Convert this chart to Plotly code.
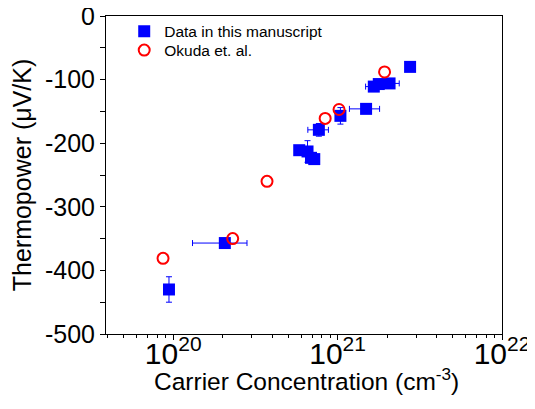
import plotly.graph_objects as go

# Data in this manuscript (blue squares)
ms_conc = [9.42e19, 2.06e20, 5.84e20, 6.56e20, 6.89e20, 7.21e20, 7.69e20,
           1.04e21, 1.49e21, 1.66e21, 1.78e21, 2.07e21, 2.76e21]
ms_S = [-430, -357, -211, -213, -223, -225, -179,
        -157, -146, -111, -107, -106, -80]
ms_S_err = [20, 0, 0, 17, 0, 0, 10, 13, 0, 0, 0, 0, 0]
ms_conc_err = [0, 0.75e20, 0, 0, 0, 0, 1.1e20, 0, 0.31e21, 0.18e21, 0, 0.3e21, 0]

# Okuda et. al. (red open circles)
ok_conc = [8.67e19, 2.30e20, 3.72e20, 8.4e20, 1.02e21, 1.93e21]
ok_S = [-381, -350, -260, -161, -147, -88]

# Axis ticks
y_tickvals = [0, -100, -200, -300, -400, -500]
y_ticktext = ["0", "-100", "-200", "-300", "-400", "-500"]

FONT = "Liberation Sans, Arial, sans-serif"
x_range = [19.591, 22]
y_range = [-500, 0]

fig = go.Figure()
fig.add_trace(go.Scatter(
    x=ms_conc, y=ms_S, mode="markers", name="Data in this manuscript",
    legend="legend",
    marker=dict(symbol="square", size=12, color="#0000ff", line=dict(width=0)),
    error_y=dict(type="data", array=ms_S_err, color="#0000ff", thickness=1, width=3),
    error_x=dict(type="data", array=ms_conc_err, color="#0000ff", thickness=1, width=3),
))
fig.add_trace(go.Scatter(
    x=ok_conc, y=ok_S, mode="markers", name="Okuda et. al.",
    legend="legend2",
    marker=dict(symbol="circle-open", size=11, color="#ff0000", line=dict(width=2, color="#ff0000")),
))

legend_style = dict(xanchor="left", yanchor="top", bgcolor="rgba(0,0,0,0)", borderwidth=0,
                    font=dict(size=15.5, family=FONT))

fig.add_annotation(
    text="Carrier Concentration (cm<sup>-3</sup>)", xref="paper", yref="paper",
    x=0.506, y=-0.142, xanchor="center", yanchor="middle", showarrow=False,
    font=dict(size=24.5, family=FONT, color="black"),
)

fig.update_layout(
    width=527, height=401,
    margin=dict(l=98, r=33, t=8, b=75, autoexpand=False),
    paper_bgcolor="white", plot_bgcolor="white",
    font=dict(family=FONT, color="black"),
    showlegend=True,
    legend=dict(x=0.046, y=1.004, **legend_style),
    legend2=dict(x=0.046, y=0.945, **legend_style),
    xaxis=dict(
        type="log", range=x_range, showgrid=False, zeroline=False, automargin=False,
        showline=True, linecolor="black", linewidth=1, mirror=True,
        ticks="outside", ticklen=5, tickwidth=1, tickcolor="black",
        dtick=1, exponentformat="power", showexponent="all",
        tickfont=dict(size=24, family=FONT), ticklabelstandoff=-11, ticklabeloverflow="allow",
        minor=dict(ticks="outside", ticklen=3, tickwidth=1, tickcolor="black", dtick="D1"),
    ),
    yaxis=dict(
        range=y_range, showgrid=False, zeroline=False, automargin=False,
        showline=True, linecolor="black", linewidth=1, mirror=True,
        ticks="outside", ticklen=5, tickwidth=1, tickcolor="black",
        tickmode="array", tickvals=y_tickvals, ticktext=y_ticktext,
        tickfont=dict(size=25, family=FONT), ticklabeloverflow="allow",
        minor=dict(ticks="outside", ticklen=5, tickwidth=1, tickcolor="black", dtick=50),
        title=dict(text="Thermopower (μV/K)", font=dict(size=25, family=FONT), standoff=16),
    ),
    xaxis2=dict(
        type="log", range=x_range, overlaying="x", side="top", anchor="y",
        showgrid=False, zeroline=False, showline=False, showticklabels=False,
        ticks="inside", ticklen=4, tickwidth=1, tickcolor="black", dtick=1,
        minor=dict(ticks="inside", ticklen=3, tickwidth=1, tickcolor="black", dtick="D1"),
    ),
    yaxis2=dict(
        range=y_range, overlaying="y", side="right", anchor="x",
        showgrid=False, zeroline=False, showline=False, showticklabels=False,
        ticks="inside", ticklen=4, tickwidth=1, tickcolor="black", dtick=100,
        minor=dict(ticks="inside", ticklen=4, tickwidth=1, tickcolor="black", dtick=50),
    ),
)

fig.write_html("out.html")
